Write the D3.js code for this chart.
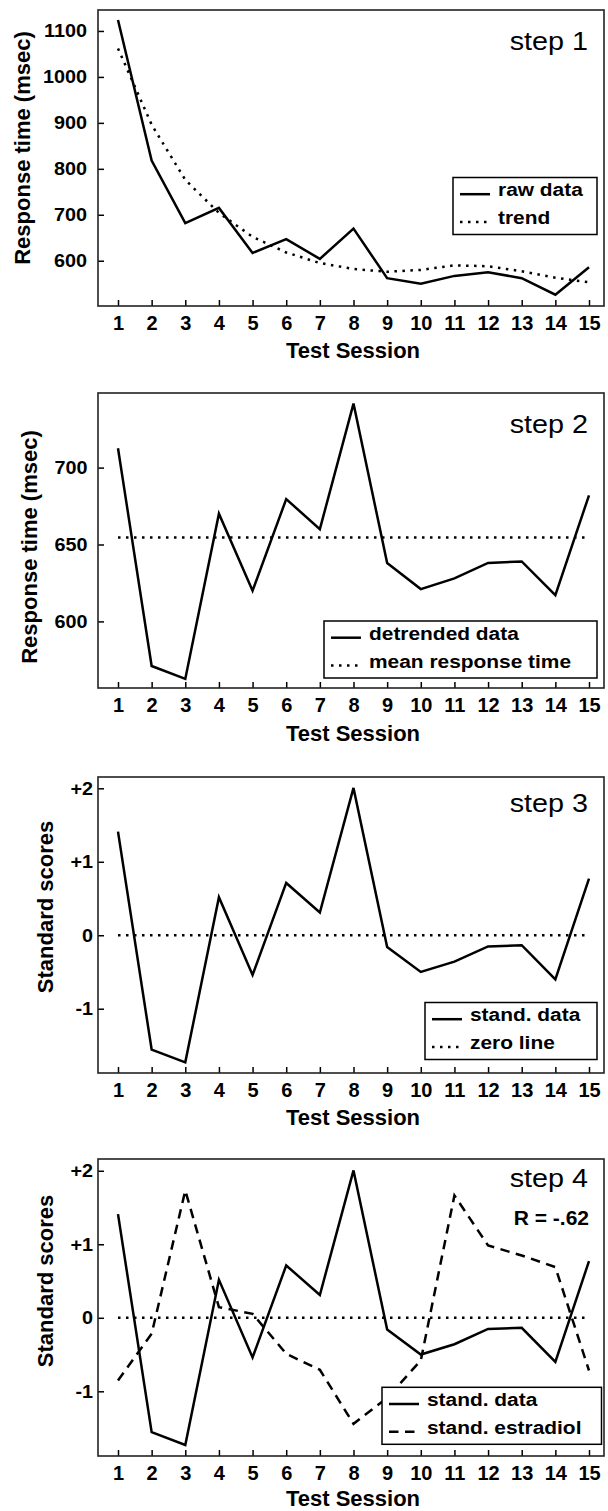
<!DOCTYPE html>
<html lang="en">
<head>
<meta charset="UTF-8" />
<title>Response time: raw, detrended, standardised, vs estradiol</title>
<script src="https://cdn.jsdelivr.net/npm/d3@7"></script>
<style>
  html, body { margin: 0; padding: 0; background: #fff; }
  svg { display: block; }
  text { font-family: "Liberation Sans", Arial, Helvetica, sans-serif; fill: #000; }
</style>
</head>
<body>
<script>
// ------ Data ------
const sessions = [1, 2, 3, 4, 5, 6, 7, 8, 9, 10, 11, 12, 13, 14, 15];

// step 1: raw response times and fitted trend (msec)
const rawRT   = [1124, 818, 682, 715, 617, 647, 604, 670, 562, 550, 567, 575, 562, 526, 586];
const trendRT = [1062, 896, 776, 704, 652, 618, 595, 582, 576, 580, 590, 588, 577, 563, 553];
const rtTicks = [600, 700, 800, 900, 1000, 1100];

// step 2: detrended data around the mean response time
const detrendedRT = [712.6, 571, 562.6, 670, 620, 679.5, 660, 741.6, 638, 621, 628, 638, 639, 617, 682];
const meanRT = 654.5;
const detrendTicks = [600, 650, 700];

// steps 3 & 4: standard scores
const standData      = [1.41, -1.556, -1.73, 0.517, -0.54, 0.712, 0.31, 2.005, -0.16, -0.5, -0.36, -0.152, -0.136, -0.6, 0.771];
const standEstradiol = [-0.853, -0.218, 1.732, 0.145, 0.054, -0.49, -0.707, -1.442, -1.09, -0.58, 1.664, 0.984, 0.848, 0.689, -0.717];
const zeroLine = 0;
const stdTicks = [-1, 0, 1, 2];
const stdTickLabels = ["-1", "0", "+1", "+2"];

const xTitle = "Test Session";

// ------ Styles ------
const SOLID = null, DOTTED = "2.5,5.5", DASHED = "9.5,6.5";
const W = 608, H = 1511;
const frameLeft = 98, frameRight = 604;

const svg = d3.select("body").append("svg")
  .attr("width", W).attr("height", H);

const x = d3.scaleLinear().domain([1, 15]).range([118, 589]);

// ------ Panel layout ------
const panels = [
  {
    top: 10, bottom: 306, domain: [501.5, 1145.6],
    ticks: rtTicks, fmt: d => d, pad: 11,
    yTitle: "Response time (msec)", yTitleX: 22, yTitleY: 148,
    step: "step 1", stepY: 50, xTitleDy: 52,
    series: [
      { values: rawRT, dash: SOLID },
      { values: trendRT, dash: DOTTED }
    ],
    legend: { x0: 453, x1: 597, y0: 177.5,
      items: [{ label: "raw data", dash: SOLID }, { label: "trend", dash: DOTTED }] }
  },
  {
    top: 393, bottom: 688, domain: [556.7, 748.5],
    ticks: detrendTicks, fmt: d => d, pad: 10.5,
    yTitle: "Response time (msec)", yTitleX: 29, yTitleY: 547,
    step: "step 2", stepY: 433, xTitleDy: 53,
    series: [
      { values: detrendedRT, dash: SOLID },
      { values: sessions.map(() => meanRT), dash: DOTTED }
    ],
    legend: { x0: 324, x1: 597, y0: 621,
      items: [{ label: "detrended data", dash: SOLID }, { label: "mean response time", dash: DOTTED }] }
  },
  {
    top: 777, bottom: 1073, domain: [-1.875, 2.154],
    ticks: stdTicks, fmt: (d, i) => stdTickLabels[i], pad: 5,
    yTitle: "Standard scores", yTitleX: 45.5, yTitleY: 907,
    step: "step 3", stepY: 812, xTitleDy: 52,
    series: [
      { values: standData, dash: SOLID },
      { values: sessions.map(() => zeroLine), dash: DOTTED }
    ],
    legend: { x0: 425, x1: 597, y0: 1002.5,
      items: [{ label: "stand. data", dash: SOLID }, { label: "zero line", dash: DOTTED }] }
  },
  {
    top: 1159, bottom: 1456, domain: [-1.88, 2.16],
    ticks: stdTicks, fmt: (d, i) => stdTickLabels[i], pad: 5,
    yTitle: "Standard scores", yTitleX: 45, yTitleY: 1281,
    step: "step 4", stepY: 1187, note: "R = -.62", noteY: 1225, xTitleDy: 50,
    series: [
      { values: sessions.map(() => zeroLine), dash: DOTTED },
      { values: standEstradiol, dash: DASHED },
      { values: standData, dash: SOLID }
    ],
    legend: { x0: 382, x1: 601.5, y0: 1387.3,
      items: [{ label: "stand. data", dash: SOLID }, { label: "stand. estradiol", dash: DASHED }] }
  }
];

panels.forEach(p => {
  const y = d3.scaleLinear().domain(p.domain).range([p.bottom, p.top]);
  const g = svg.append("g");

  // y axis: short inward ticks, labels a little wider than tall
  const ya = g.append("g")
    .attr("transform", `translate(${frameLeft},0)`)
    .call(d3.axisLeft(y).tickValues(p.ticks).tickFormat(p.fmt).tickSizeInner(-6).tickSizeOuter(0).tickPadding(p.pad));
  ya.select(".domain").remove();
  ya.selectAll("line").attr("stroke-width", 1.5);
  ya.selectAll("text")
    .style("font-size", "18px").style("font-weight", "bold")
    .attr("x", -p.pad / 1.1)
    .attr("transform", "scale(1.1,1)");

  // x axis: inward ticks
  const xa = g.append("g")
    .attr("transform", `translate(0,${p.bottom})`)
    .call(d3.axisBottom(x).tickValues(sessions).tickSizeInner(-6).tickSizeOuter(0).tickPadding(10));
  xa.select(".domain").remove();
  xa.selectAll("line").attr("stroke-width", 1.5);
  xa.selectAll("text").style("font-size", "20px").style("font-weight", "bold");

  // frame
  g.append("rect")
    .attr("x", frameLeft).attr("y", p.top)
    .attr("width", frameRight - frameLeft).attr("height", p.bottom - p.top)
    .attr("fill", "none").attr("stroke", "#222").attr("stroke-width", 1.6);

  // series
  const line = d3.line().x((d, i) => x(sessions[i])).y(d => y(d));
  p.series.forEach(s => {
    g.append("path")
      .datum(s.values)
      .attr("d", line)
      .attr("fill", "none")
      .attr("stroke", "#000")
      .attr("stroke-width", 2.5)
      .attr("stroke-linejoin", "miter")
      .attr("stroke-dasharray", s.dash);
  });

  // axis titles
  g.append("text")
    .attr("transform", `translate(${p.yTitleX},${p.yTitleY}) rotate(-90)`)
    .attr("text-anchor", "middle").attr("dy", "0.35em")
    .style("font-size", "22px").style("font-weight", "bold")
    .text(p.yTitle);
  g.append("text")
    .attr("x", 353).attr("y", p.bottom + p.xTitleDy)
    .attr("text-anchor", "middle")
    .style("font-size", "22px").style("font-weight", "bold")
    .text(xTitle);

  // step label
  g.append("text")
    .attr("transform", `translate(588,${p.stepY}) scale(1.15,1)`)
    .attr("text-anchor", "end")
    .style("font-size", "25px")
    .text(p.step);
  if (p.note) {
    g.append("text")
      .attr("x", 589).attr("y", p.noteY)
      .attr("text-anchor", "end")
      .style("font-size", "21px").style("font-weight", "bold")
      .text(p.note);
  }

  // legend
  const L = p.legend;
  const lg = g.append("g");
  lg.append("rect")
    .attr("x", L.x0).attr("y", L.y0)
    .attr("width", L.x1 - L.x0).attr("height", 57)
    .attr("fill", "#fff").attr("stroke", "#000").attr("stroke-width", 1.5);
  L.items.forEach((it, i) => {
    const by = L.y0 + 18.7 + i * 27.8;
    lg.append("line")
      .attr("x1", L.x0 + 7).attr("x2", L.x0 + 37)
      .attr("y1", by - 2).attr("y2", by - 2)
      .attr("stroke", "#000").attr("stroke-width", 2.5)
      .attr("stroke-dasharray", it.dash);
    lg.append("text")
      .attr("transform", `translate(${L.x0 + 45},${by}) scale(1.1,1)`)
      .style("font-size", "19px").style("font-weight", "bold")
      .text(it.label);
  });
});
</script>
</body>
</html>
